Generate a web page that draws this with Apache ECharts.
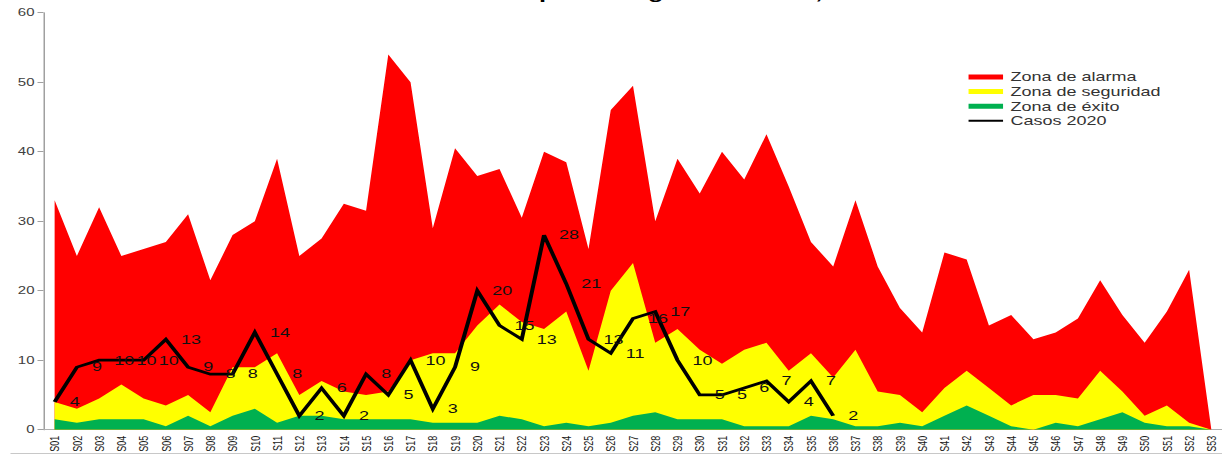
<!DOCTYPE html>
<html>
<head>
<meta charset="utf-8">
<script src="https://cdn.jsdelivr.net/npm/echarts@6/dist/echarts.min.js"></script>
<style>
  html, body { margin: 0; padding: 0; background: #fff; overflow: hidden; }
  #chart { width: 814.667px; height: 456px; transform: scaleX(1.5); transform-origin: 0 0; }
</style>
</head>
<body>
<div id="chart"></div>
<script>
const categories = ['S01','S02','S03','S04','S05','S06','S07','S08','S09','S10','S11','S12','S13','S14','S15','S16','S17','S18','S19','S20','S21','S22','S23','S24','S25','S26','S27','S28','S29','S30','S31','S32','S33','S34','S35','S36','S37','S38','S39','S40','S41','S42','S43','S44','S45','S46','S47','S48','S49','S50','S51','S52','S53'];
const zonaAlarma = [33,25,32,25,26,27,31,21.5,28,30,39,25,27.5,32.5,31.5,54,50,29,40.5,36.5,37.5,30.5,40,38.5,26,46,49.5,30,39,34,40,36,42.5,35,27,23.5,33,23.5,17.5,14,25.5,24.5,15,16.5,13,14,16,21.5,16.5,12.5,17,23,0];
const zonaSeguridad = [4,3,4.5,6.5,4.5,3.5,5,2.5,9,9,11,5,7,5.5,5,5.5,10,11,11,15,18,15.5,14.5,17,8.5,20,24,12.5,14.5,11.5,9.5,11.5,12.5,8.5,11,7.5,11.5,5.5,5,2.5,6,8.5,6,3.5,5,5,4.5,8.5,5.5,2,3.5,1,0];
const zonaExito = [1.5,1,1.5,1.5,1.5,0.5,2,0.5,2,3,1,2,2,1.5,1.5,1.5,1.5,1,1,1,2,1.5,0.5,1,0.5,1,2,2.5,1.5,1.5,1.5,0.5,0.5,0.5,2,1.5,0.5,0.5,1,0.5,2,3.5,2,0.5,0,1,0.5,1.5,2.5,1,0.5,0.5,0];
const casos2020 = [4,9,10,10,10,13,9,8,8,14,8,2,6,2,8,5,10,3,9,20,15,13,28,21,13,11,16,17,10,5,5,6,7,4,7,2];
const yTicks = [0,10,20,30,40,50,60];

const FONT = "'Liberation Sans', Arial, sans-serif";
const chart = echarts.init(document.getElementById('chart'), null, { renderer: 'svg' });

function areaSeries(name, data, color) {
  return {
    name: name, type: 'line', data: data,
    symbol: 'none', showSymbol: false,
    lineStyle: { width: 0, color: color },
    itemStyle: { color: color },
    areaStyle: { color: color, opacity: 1 },
    emphasis: { disabled: true },
    silent: true
  };
}

chart.setOption({
  animation: false,
  backgroundColor: '#fff',
  title: {
    text: 'Canal endémico por la Región de Salud, 2020',
    left: 'center', top: -20.5,
    textStyle: { fontFamily: FONT, fontWeight: 'bold', fontSize: 17, color: '#000' }
  },
  legend: {
    orient: 'vertical', left: 640.7, top: 66,
    itemWidth: 23, itemHeight: 5, itemGap: 2.6,
    textStyle: { fontFamily: FONT, fontSize: 12, color: '#333' },
    data: [
      { name: 'Zona de alarma', icon: 'rect' },
      { name: 'Zona de seguridad', icon: 'rect' },
      { name: 'Zona de éxito', icon: 'rect' },
      { name: 'Casos 2020', icon: 'path://M0,0H46V4H0Z' }
    ]
  },
  grid: { left: 29, right: -1.3, top: 12.7, bottom: 26.3, containLabel: false },
  xAxis: {
    type: 'category', data: categories, boundaryGap: true,
    axisLine: { show: true, lineStyle: { color: '#b0b0b0', width: 1 } },
    axisTick: { show: false },
    axisLabel: { interval: 0, rotate: 90, margin: 6, fontFamily: FONT, fontSize: 9, color: '#222' }
  },
  yAxis: {
    type: 'value', min: yTicks[0], max: yTicks[yTicks.length - 1], interval: 10,
    splitLine: { show: false },
    axisLine: { show: true, lineStyle: { color: '#a0a0a0', width: 1 } },
    axisTick: { show: true, length: 4, lineStyle: { color: '#a0a0a0' } },
    axisLabel: { margin: 6, fontFamily: FONT, fontSize: 10, color: '#404040' }
  },
  graphic: [{
    type: 'line', silent: true,
    shape: { x1: 7, y1: 453.5, x2: 815, y2: 453.5 },
    style: { stroke: '#c8c8c8', lineWidth: 1 }
  }],
  series: [
    areaSeries('Zona de alarma', zonaAlarma, '#FF0000'),
    areaSeries('Zona de seguridad', zonaSeguridad, '#FFFF00'),
    areaSeries('Zona de éxito', zonaExito, '#00B050'),
    {
      name: 'Casos 2020', type: 'line', data: casos2020,
      symbol: 'circle', symbolSize: 0.1, showSymbol: true,
      lineStyle: { color: '#000', width: 2.7, join: 'miter' },
      itemStyle: { color: '#000' },
      label: {
        show: true, position: 'right', distance: 10,
        fontFamily: FONT, fontSize: 12, color: '#111'
      },
      emphasis: { disabled: true },
      silent: true
    }
  ]
});
</script>
</body>
</html>
